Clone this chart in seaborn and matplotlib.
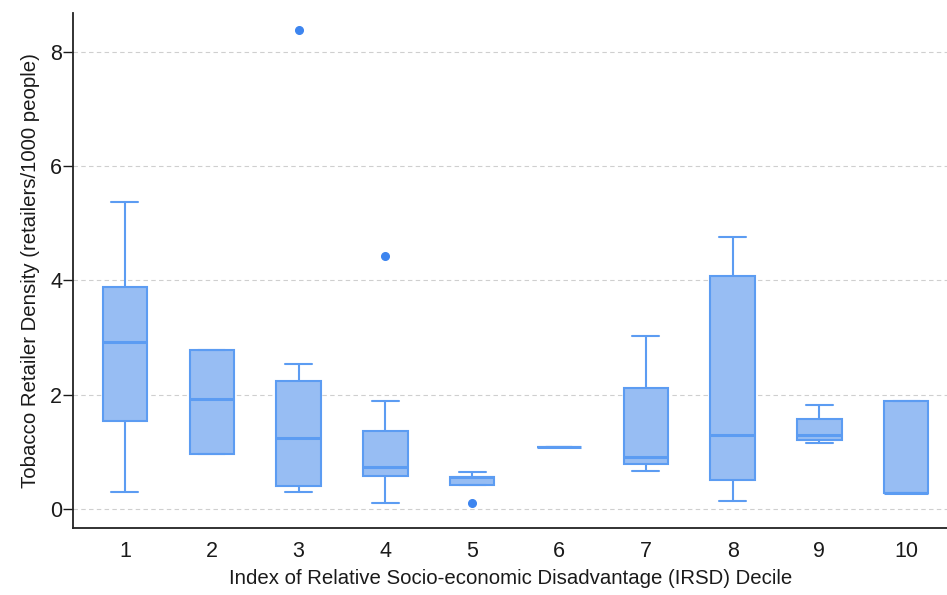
# Tobacco retailer density by IRSD decile - boxplot
import pandas as pd
import matplotlib.pyplot as plt
import seaborn as sns

sns.set_theme(style="white")
plt.rcParams['font.family'] = ['Liberation Sans', 'DejaVu Sans']

# data (retailers/1000 people), one list per decile
deciles = ["1", "2", "3", "4", "5", "6", "7", "8", "9", "10"]
d1 = [0.30, 1.54, 2.92, 3.88, 5.37]
d2 = [0.96, 0.96, 1.93, 2.78, 2.78]
d3 = [0.30, 0.40, 0.40, 1.24, 1.24, 2.23, 2.23, 2.53, 8.38]
d4 = [0.10, 0.57, 0.57, 0.74, 0.74, 1.36, 1.36, 1.89, 4.42]
d5 = [0.105, 0.42, 0.42, 0.56, 0.56, 0.56, 0.56, 0.64, 0.64]
d6 = [1.09]
d7 = [0.66, 0.78, 0.91, 2.11, 3.03]
d8 = [0.14, 0.50, 1.30, 4.07, 4.76]
d9 = [1.15, 1.20, 1.29, 1.57, 1.81]
d10 = [0.27, 0.27, 0.285, 1.88, 1.88]

groups = [d1, d2, d3, d4, d5, d6, d7, d8, d9, d10]
rows = []
for dec, vals in zip(deciles, groups):
    for v in vals:
        rows.append({"decile": dec, "density": v})
mydata = pd.DataFrame(rows)

fig = plt.figure(figsize=(9.47, 5.95), dpi=100)
ax = fig.add_axes([0.0774, 0.112, 0.9226, 0.8656])

ax.yaxis.grid(True, linestyle=(0, (4, 3)), color="#cfcfcf", linewidth=0.8)
ax.set_axisbelow(True)

sns.boxplot(x="decile", y="density", data=mydata, order=deciles, ax=ax,
            color="#97bdf3", linecolor="#5c9cf2", saturation=1,
            width=0.51, linewidth=1.5, capwidths=0.31,
            medianprops=dict(linewidth=2.2),
            flierprops=dict(marker="o", markersize=5.5, markerfacecolor="#3d85ef",
                            markeredgecolor="#3d85ef"))

ax.set_xlim(-0.595, 9.47)
ax.set_ylim(-0.343, 8.68)
ax.set_yticks([0, 2, 4, 6, 8])

ax.set_xlabel("Index of Relative Socio-economic Disadvantage (IRSD) Decile",
              fontsize=14.7, color="#1a1a1a", labelpad=5)
ax.set_ylabel("Tobacco Retailer Density (retailers/1000 people)",
              fontsize=14.7, color="#1a1a1a", labelpad=7)
ax.tick_params(axis="y", length=7, width=1, pad=1, labelsize=15.5, colors="#1a1a1a", left=True)
ax.tick_params(axis="x", length=0, pad=9, labelsize=15.5, colors="#1a1a1a")

sns.despine(ax=ax, top=True, right=True)
for s in ["left", "bottom"]:
    ax.spines[s].set_color("#222222")
    ax.spines[s].set_linewidth(1.3)

fig.savefig("out.png", dpi=100)
